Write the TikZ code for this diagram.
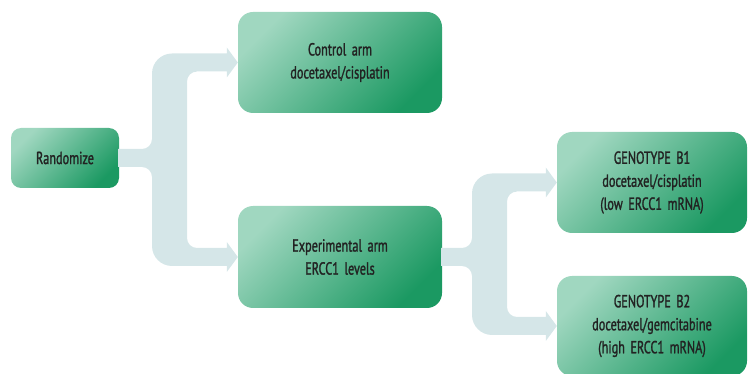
\documentclass[tikz,border=0pt]{standalone}
\usepackage{fontspec}
\setmainfont{PT Sans}[FakeStretch=0.7, FakeBold=1.3, WordSpace=1.7]
\usetikzlibrary{calc}
\definecolor{bandc}{HTML}{D5E6E8}
\definecolor{boxlight}{HTML}{A0D7C0}
\definecolor{boxdark}{HTML}{1B9962}
\definecolor{txt}{HTML}{222222}
\tikzset{
  gbox/.style={rounded corners=15pt, top color=boxlight, bottom color=boxdark, shading angle=45,
    text=txt, align=center, font=\fontsize{17.5}{23}\selectfont, inner sep=0pt},
  band/.style={fill=bandc, draw=none}
}
% #1 source, #2 upper target, #3 lower target, #4 trunk left x, #5 trunk right x
\newcommand{\bracearrow}[5]{%
  \fill[band] let \p1=(#1.east), \p2=(#2.west), \p3=(#3.west) in
    (\x1-1pt,\y1+9pt) -- (#4-10pt,\y1+9pt)
    arc[start angle=270,end angle=360,radius=10pt]
    -- (#4,\y2+9pt-20pt)
    arc[start angle=180,end angle=90,radius=20pt]
    -- (\x2-11pt,\y2+9pt) -- (\x2-11pt,\y2+15pt) -- (\x2,\y2) -- (\x2-11pt,\y2-15pt) -- (\x2-11pt,\y2-9pt)
    -- (#5+10pt,\y2-9pt)
    arc[start angle=90,end angle=180,radius=10pt]
    -- (#5,\y3+19pt)
    arc[start angle=180,end angle=270,radius=10pt]
    -- (\x3-11pt,\y3+9pt) -- (\x3-11pt,\y3+15pt) -- (\x3,\y3) -- (\x3-11pt,\y3-15pt) -- (\x3-11pt,\y3-9pt)
    -- (#4+20pt,\y3-9pt)
    arc[start angle=270,end angle=180,radius=20pt]
    -- (#4,\y1-19pt)
    arc[start angle=0,end angle=90,radius=10pt]
    -- (\x1-1pt,\y1-9pt) -- cycle;%
}
\begin{document}
\begin{tikzpicture}[x=1pt,y=-1pt]
\useasboundingbox (0,0) rectangle (748,374);
\node[gbox, rounded corners=10pt, minimum width=108pt, minimum height=60pt] (rand) at (65,158) {Randomize};
\node[gbox, minimum width=204pt, minimum height=101pt] (ctrl) at (340,62.5) {Control arm\\docetaxel/cisplatin};
\node[gbox, minimum width=204pt, minimum height=102pt] (exp) at (340,257) {Experimental arm\\ERCC1 levels};
\node[gbox, minimum width=190pt, minimum height=101pt] (b1) at (652,182.5) {GENOTYPE B1\\docetaxel/cisplatin\\(low ERCC1 mRNA)};
\node[gbox, minimum width=190pt, minimum height=100pt] (b2) at (652,326) {GENOTYPE B2\\docetaxel/gemcitabine\\(high ERCC1 mRNA)};
\bracearrow{rand}{ctrl}{exp}{152pt}{187pt}
\bracearrow{exp}{b1}{b2}{472pt}{507pt}
\end{tikzpicture}
\end{document}
